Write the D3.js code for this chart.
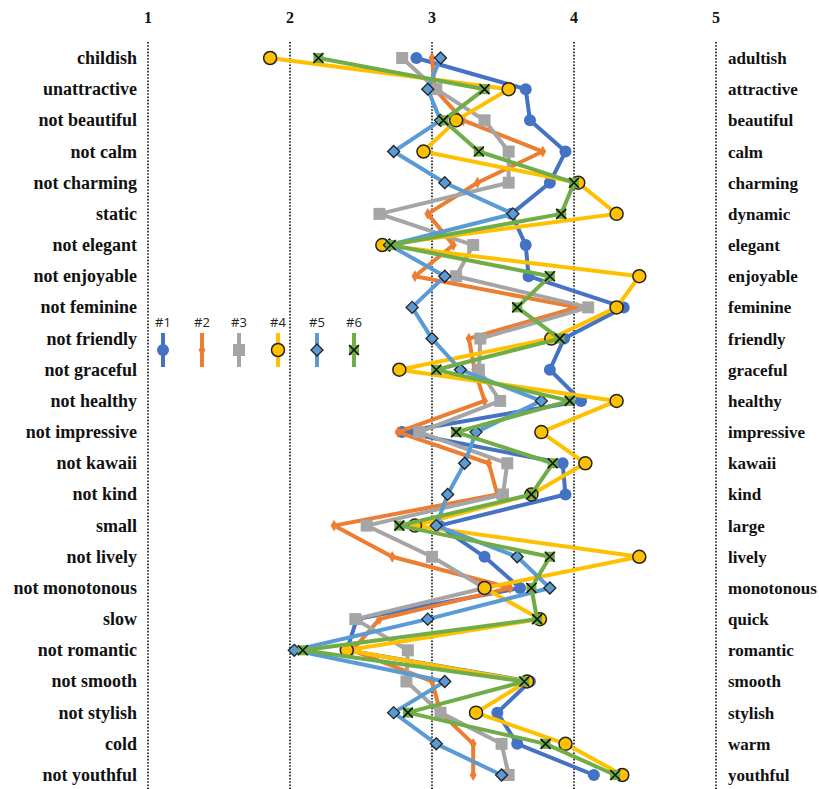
<!DOCTYPE html>
<html>
<head>
<meta charset="utf-8">
<script src="https://cdn.jsdelivr.net/npm/d3@7"></script>
<style>
  body { margin: 0; background: #fff; }
  svg { display: block; }
  .lbl { font-family: "Liberation Serif", "Times New Roman", serif; font-weight: bold; fill: #111; }
  .leg { font-family: "Open Sans", "Liberation Sans", sans-serif; font-size: 13px; fill: #222; }
</style>
</head>
<body>
<script>
// adjective pairs (left = score 1, right = score 5)
var leftWords = ["childish", "unattractive", "not beautiful", "not calm", "not charming", "static",
  "not elegant", "not enjoyable", "not feminine", "not friendly", "not graceful", "not healthy",
  "not impressive", "not kawaii", "not kind", "small", "not lively", "not monotonous", "slow",
  "not romantic", "not smooth", "not stylish", "cold", "not youthful"];
var rightWords = ["adultish", "attractive", "beautiful", "calm", "charming", "dynamic",
  "elegant", "enjoyable", "feminine", "friendly", "graceful", "healthy",
  "impressive", "kawaii", "kind", "large", "lively", "monotonous", "quick",
  "romantic", "smooth", "stylish", "warm", "youthful"];
var ticks = [1, 2, 3, 4, 5];
var seriesNames = ["#1", "#2", "#3", "#4", "#5", "#6"];

// mean scores
var s1 = [2.89, 3.66, 3.69, 3.94, 3.83, 3.56, 3.66, 3.68, 4.35, 3.93, 3.83, 4.05,
          2.79, 3.92, 3.94, 3.05, 3.37, 3.62, 2.47, 2.40, 3.69, 3.46, 3.60, 4.14];
var s2 = [3.00, 3.02, 3.22, 3.78, 3.32, 2.97, 3.15, 2.88, 4.02, 3.26, 3.30, 3.37,
          2.76, 3.40, 3.46, 2.31, 2.72, 3.55, 2.63, 2.44, 3.00, 3.06, 3.29, 3.29];
var s3 = [2.79, 3.03, 3.37, 3.54, 3.54, 2.63, 3.29, 3.17, 4.10, 3.34, 3.33, 3.48,
          2.91, 3.53, 3.50, 2.54, 3.00, 3.37, 2.46, 2.83, 2.82, 3.06, 3.49, 3.54];
var s4 = [1.86, 3.54, 3.17, 2.94, 4.03, 4.30, 2.65, 4.46, 4.30, 3.84, 2.77, 4.30,
          3.77, 4.08, 3.70, 2.88, 4.46, 3.37, 3.76, 2.40, 3.67, 3.31, 3.94, 4.34];
var s5 = [3.06, 2.97, 3.06, 2.73, 3.09, 3.57, 2.70, 3.09, 2.86, 3.00, 3.20, 3.77,
          3.31, 3.23, 3.11, 3.03, 3.60, 3.83, 2.97, 2.03, 3.09, 2.73, 3.03, 3.49];
var s6 = [2.20, 3.37, 3.08, 3.33, 4.00, 3.91, 2.71, 3.83, 3.60, 3.90, 3.03, 3.97,
          3.17, 3.85, 3.70, 2.77, 3.83, 3.70, 3.74, 2.09, 3.65, 2.83, 3.80, 4.29];

var colors = ["#4472C4", "#ED7D31", "#A5A5A5", "#FFC000", "#5B9BD5", "#70AD47"];
var markers = ["dot", "small", "square", "ring", "diamond", "cross"];

var width = 819, height = 789;
var svg = d3.select("body").append("svg").attr("width", width).attr("height", height);

var x = d3.scaleLinear().domain([1, 5]).range([148, 716]);
var y = d3.scalePoint().domain(leftWords).range([58, 775]);

// dotted grid lines
svg.append("g").selectAll("line").data(ticks).enter().append("line")
  .attr("x1", d => x(d)).attr("x2", d => x(d))
  .attr("y1", 42).attr("y2", height)
  .attr("stroke", "#111").attr("stroke-width", 1.6)
  .attr("stroke-dasharray", "1.6,1.6");

// top scale labels
svg.append("g").selectAll("text").data(ticks).enter().append("text")
  .attr("class", "lbl").attr("x", d => x(d)).attr("y", 23)
  .attr("text-anchor", "middle").style("font-size", "16px")
  .text(d => d);

// left / right words
svg.append("g").selectAll("text").data(leftWords).enter().append("text")
  .attr("class", "lbl").attr("x", 137).attr("y", d => y(d) + 6)
  .attr("text-anchor", "end").style("font-size", "18px")
  .text(d => d);
svg.append("g").selectAll("text").data(rightWords).enter().append("text")
  .attr("class", "lbl").attr("x", 728).attr("y", (d, i) => y(leftWords[i]) + 6)
  .style("font-size", "17px")
  .text(d => d);

function drawMarker(g, type, color) {
  if (type == "dot") {
    g.append("circle").attr("r", 6).attr("fill", color);
  } else if (type == "small") {
    g.append("path").attr("d", d3.symbol(d3.symbolDiamond, 40)).attr("fill", color);
  } else if (type == "square") {
    g.append("rect").attr("x", -6).attr("y", -6).attr("width", 12).attr("height", 12).attr("fill", color);
  } else if (type == "ring") {
    g.append("circle").attr("r", 6.5).attr("fill", color).attr("stroke", "#222").attr("stroke-width", 1.5);
  } else if (type == "diamond") {
    g.append("path").attr("d", "M0,-6L6,0L0,6L-6,0Z").attr("fill", color)
      .attr("stroke", "#222").attr("stroke-width", 1.3);
  } else if (type == "cross") {
    g.append("rect").attr("x", -5).attr("y", -5).attr("width", 10).attr("height", 10).attr("fill", color);
    g.append("path").attr("d", "M-5,-5L5,5M5,-5L-5,5").attr("stroke", "#111").attr("stroke-width", 1.6);
  }
}

var allSeries = [s1, s2, s3, s4, s5, s6];
var line = d3.line().x(d => x(d.v)).y(d => y(d.k));

allSeries.forEach(function(vals, si) {
  var pts = vals.map((v, i) => ({k: leftWords[i], v: v}));
  var g = svg.append("g");
  g.append("path").datum(pts).attr("d", line)
    .attr("fill", "none").attr("stroke", colors[si])
    .attr("stroke-width", 4).attr("stroke-linejoin", "round");
  g.selectAll("g.m").data(pts).enter().append("g").attr("class", "m")
    .attr("transform", d => "translate(" + x(d.v) + "," + y(d.k) + ")")
    .each(function() { drawMarker(d3.select(this), markers[si], colors[si]); });
});

// legend
var legX = [163, 202, 239, 278, 317, 354];
var leg = svg.append("g");
seriesNames.forEach(function(name, i) {
  leg.append("text").attr("class", "leg").attr("x", legX[i]).attr("y", 327)
    .attr("text-anchor", "middle").text(name);
  leg.append("line").attr("x1", legX[i]).attr("x2", legX[i])
    .attr("y1", 333).attr("y2", 367)
    .attr("stroke", colors[i]).attr("stroke-width", 4);
  var m = leg.append("g").attr("transform", "translate(" + legX[i] + ",350)");
  drawMarker(m, markers[i], colors[i]);
});
</script>
</body>
</html>
